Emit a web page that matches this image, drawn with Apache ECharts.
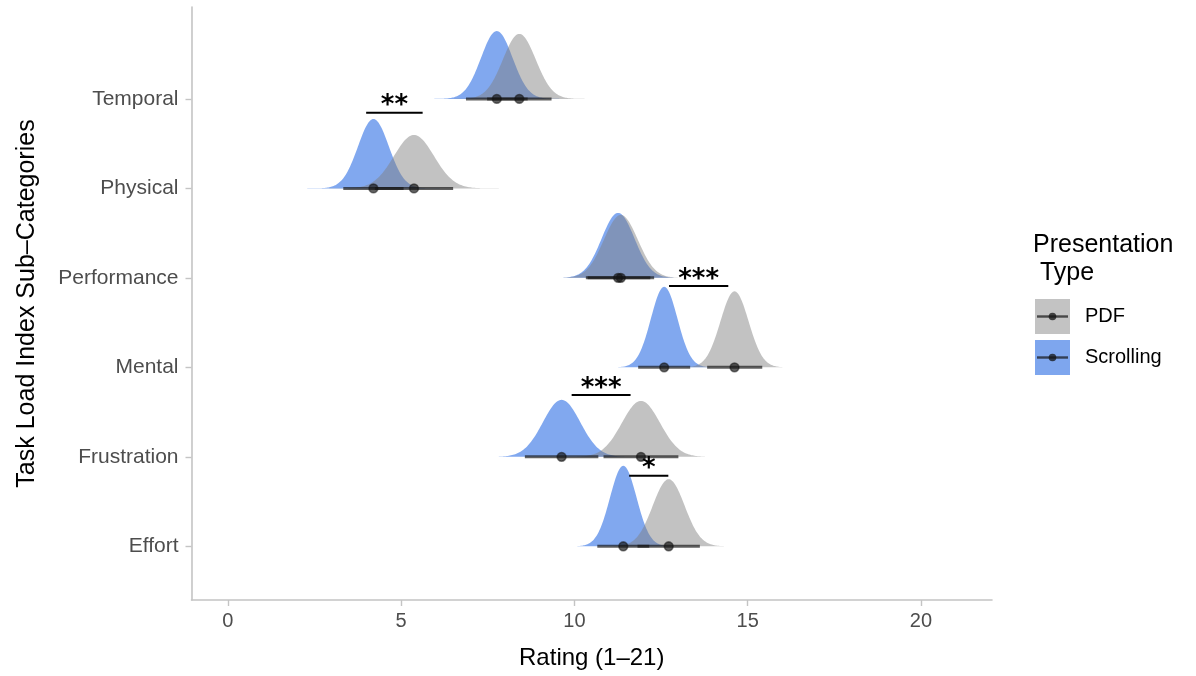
<!DOCTYPE html>
<html>
<head>
<meta charset="utf-8">
<title>Task Load Index by Presentation Type</title>
<script src="https://cdn.jsdelivr.net/npm/echarts@6/dist/echarts.min.js"></script>
<style>
  html, body { margin: 0; padding: 0; background: #ffffff; }
  #chart { width: 1196px; height: 676px; }
</style>
</head>
<body>
<div id="chart"></div>
<script>
// NASA-TLX sub-scale ratings: estimated mean and 95% interval per presentation type
const categories = ['Temporal', 'Physical', 'Performance', 'Mental', 'Frustration', 'Effort'];

const scrollMean = [7.76, 4.20, 11.26, 12.59, 9.63, 11.41];
const scrollLow  = [6.87, 3.33, 10.33, 11.84, 8.57, 10.66];
const scrollHigh = [8.65, 5.07, 12.19, 13.34, 10.69, 12.16];

const pdfMean = [8.41, 5.37, 11.34, 14.62, 11.92, 12.72];
const pdfLow  = [7.48, 4.24, 10.38, 13.83, 10.84, 11.82];
const pdfHigh = [9.34, 6.50, 12.30, 15.42, 13.00, 13.62];

// significance brackets between the two presentation types
const sigCategory = ['Physical', 'Mental', 'Frustration', 'Effort'];
const sigFrom  = [3.99, 12.73, 9.92, 11.58];
const sigTo    = [5.62, 14.44, 11.62, 12.71];
const sigLevel = [5.846, 3.909, 2.691, 1.789];
const sigLabel = ['**', '***', '***', '*'];

const xTicks = [0, 5, 10, 15, 20];
const groupNames = ['PDF', 'Scrolling'];

// ---------------------------------------------------------------
const FONT = '"Liberation Sans", Arial, Helvetica, sans-serif';
const STAR_FONT = 'bold 26px "DejaVu Sans", sans-serif';
const FILL_PDF = 'rgba(127,127,127,0.48)';
const FILL_SCROLL = 'rgba(45,110,228,0.6)';
const KEY_PDF = '#c3c3c3';
const KEY_SCROLL = '#7ea6ee';
const INTERVAL = 'rgba(20,20,20,0.68)';
const SLAB_SCALE = 0.9;
const Z95 = 1.959964;

const nCat = categories.length;
const catPos = name => nCat - categories.indexOf(name);   // top row highest

function makeRows(mean, low, high) {
  return categories.map((c, i) => {
    const sd = (high[i] - low[i]) / (2 * Z95);
    return [nCat - i, mean[i], sd, low[i], high[i]];
  });
}
const scrollRows = makeRows(scrollMean, scrollLow, scrollHigh);
const pdfRows = makeRows(pdfMean, pdfLow, pdfHigh);

const normPdf = (x, mu, sd) =>
  Math.exp(-0.5 * ((x - mu) / sd) ** 2) / (sd * Math.sqrt(2 * Math.PI));
// all slabs share one density scale; the tallest reaches SLAB_SCALE of a row
const maxDensity = Math.max(...scrollRows.concat(pdfRows).map(r => normPdf(r[1], r[1], r[2])));

function slabRenderer(fill) {
  return function (params, api) {
    const pos = api.value(0), mu = api.value(1), sd = api.value(2);
    const lo = mu - 4.5 * sd, hi = mu + 4.5 * sd, N = 160;
    const pts = [api.coord([lo, pos])];
    for (let k = 0; k <= N; k++) {
      const x = lo + (hi - lo) * k / N;
      pts.push(api.coord([x, pos + SLAB_SCALE * normPdf(x, mu, sd) / maxDensity]));
    }
    pts.push(api.coord([hi, pos]));
    return { type: 'polygon', shape: { points: pts }, style: { fill: fill } };
  };
}

function intervalRenderer(params, api) {
  const pos = api.value(0), mu = api.value(1);
  const a = api.coord([api.value(3), pos]);
  const b = api.coord([api.value(4), pos]);
  const c = api.coord([mu, pos]);
  return {
    type: 'group',
    children: [
      { type: 'line', shape: { x1: a[0], y1: a[1], x2: b[0], y2: b[1] },
        style: { stroke: INTERVAL, lineWidth: 3 } },
      { type: 'circle', shape: { cx: c[0], cy: c[1], r: 4.4 },
        style: { fill: INTERVAL, stroke: 'rgba(20,20,20,0.55)', lineWidth: 1.6 } }
    ]
  };
}

function bracketRenderer(params, api) {
  const y = api.value(0);
  const a = api.coord([api.value(1), y]);
  const b = api.coord([api.value(2), y]);
  const label = sigLabel[params.dataIndex];
  return {
    type: 'group',
    children: [
      { type: 'line', shape: { x1: a[0], y1: a[1], x2: b[0], y2: b[1] },
        style: { stroke: '#000000', lineWidth: 2 } },
      { type: 'text', x: (a[0] + b[0]) / 2, y: a[1] + 7,
        style: { text: label, fill: '#000000', font: STAR_FONT,
                 align: 'center', verticalAlign: 'bottom' } }
    ]
  };
}

const sigRows = sigCategory.map((c, i) => [sigLevel[i], sigFrom[i], sigTo[i]]);

const GRID = { left: 191.5, right: 204, top: 7, bottom: 76 };
const axisGray = '#c4c4c4';

// legend drawn as graphic elements: filled key with point-interval glyph
function legendKey(top, fill, label) {
  const cy = top + 17.5;
  return [
    { type: 'rect', shape: { x: 1035, y: top, width: 35, height: 35 }, style: { fill: fill } },
    { type: 'line', shape: { x1: 1037, y1: cy, x2: 1068, y2: cy },
      style: { stroke: 'rgba(20,20,20,0.7)', lineWidth: 2.4 } },
    { type: 'circle', shape: { cx: 1052.5, cy: cy, r: 3.8 }, style: { fill: 'rgba(20,20,20,0.75)' } },
    { type: 'text', x: 1085, y: cy,
      style: { text: label, fill: '#000000', font: '20px ' + FONT, verticalAlign: 'middle' } }
  ];
}

const chart = echarts.init(document.getElementById('chart'), null, { renderer: 'canvas' });
chart.setOption({
  backgroundColor: '#ffffff',
  animation: false,
  grid: GRID,
  xAxis: {
    type: 'value',
    min: -1.05, max: 22.05,
    name: 'Rating (1\u201321)',
    nameLocation: 'middle',
    nameGap: 46,
    nameTextStyle: { fontFamily: FONT, fontSize: 24, color: '#000000', verticalAlign: 'top' },
    axisLine: { show: true, onZero: false, lineStyle: { color: axisGray, width: 1.6 } },
    axisTick: { show: true, length: 6, customValues: xTicks, lineStyle: { color: axisGray, width: 1.4 } },
    axisLabel: { customValues: xTicks, margin: 11, fontFamily: FONT, fontSize: 20, color: '#4d4d4d' },
    splitLine: { show: false }
  },
  yAxis: {
    type: 'value',
    min: 0.4, max: 7.027,
    name: 'Task Load Index Sub\u2013Categories',
    nameLocation: 'middle',
    nameGap: 152,
    nameRotate: 90,
    nameTextStyle: { fontFamily: FONT, fontSize: 25, color: '#000000' },
    axisLine: { show: true, onZero: false, lineStyle: { color: axisGray, width: 1.6 } },
    axisTick: { show: true, length: 6, customValues: categories.map(catPos),
                lineStyle: { color: axisGray, width: 1.4 } },
    axisLabel: {
      customValues: categories.map(catPos),
      margin: 13, fontFamily: FONT, fontSize: 21, color: '#4d4d4d',
      formatter: v => categories[nCat - Math.round(v)]
    },
    splitLine: { show: false }
  },
  series: [
    { type: 'custom', name: 'Scrolling', renderItem: slabRenderer(FILL_SCROLL),
      data: scrollRows, encode: { x: 1, y: 0 }, clip: true, z: 1 },
    { type: 'custom', name: 'PDF', renderItem: slabRenderer(FILL_PDF),
      data: pdfRows, encode: { x: 1, y: 0 }, clip: true, z: 2 },
    { type: 'custom', name: 'PDF interval', renderItem: intervalRenderer,
      data: pdfRows, encode: { x: 1, y: 0 }, z: 3 },
    { type: 'custom', name: 'Scrolling interval', renderItem: intervalRenderer,
      data: scrollRows, encode: { x: 1, y: 0 }, z: 3 },
    { type: 'custom', name: 'Significance', renderItem: bracketRenderer,
      data: sigRows, encode: { x: [1, 2], y: 0 }, z: 4 }
  ],
  graphic: [
    { type: 'text', x: 1033, y: 231,
      style: { text: 'Presentation\n Type', fill: '#000000', font: '25px ' + FONT, lineHeight: 28 } },
    ...legendKey(299, KEY_PDF, groupNames[0]),
    ...legendKey(340, KEY_SCROLL, groupNames[1])
  ]
});
</script>
</body>
</html>
